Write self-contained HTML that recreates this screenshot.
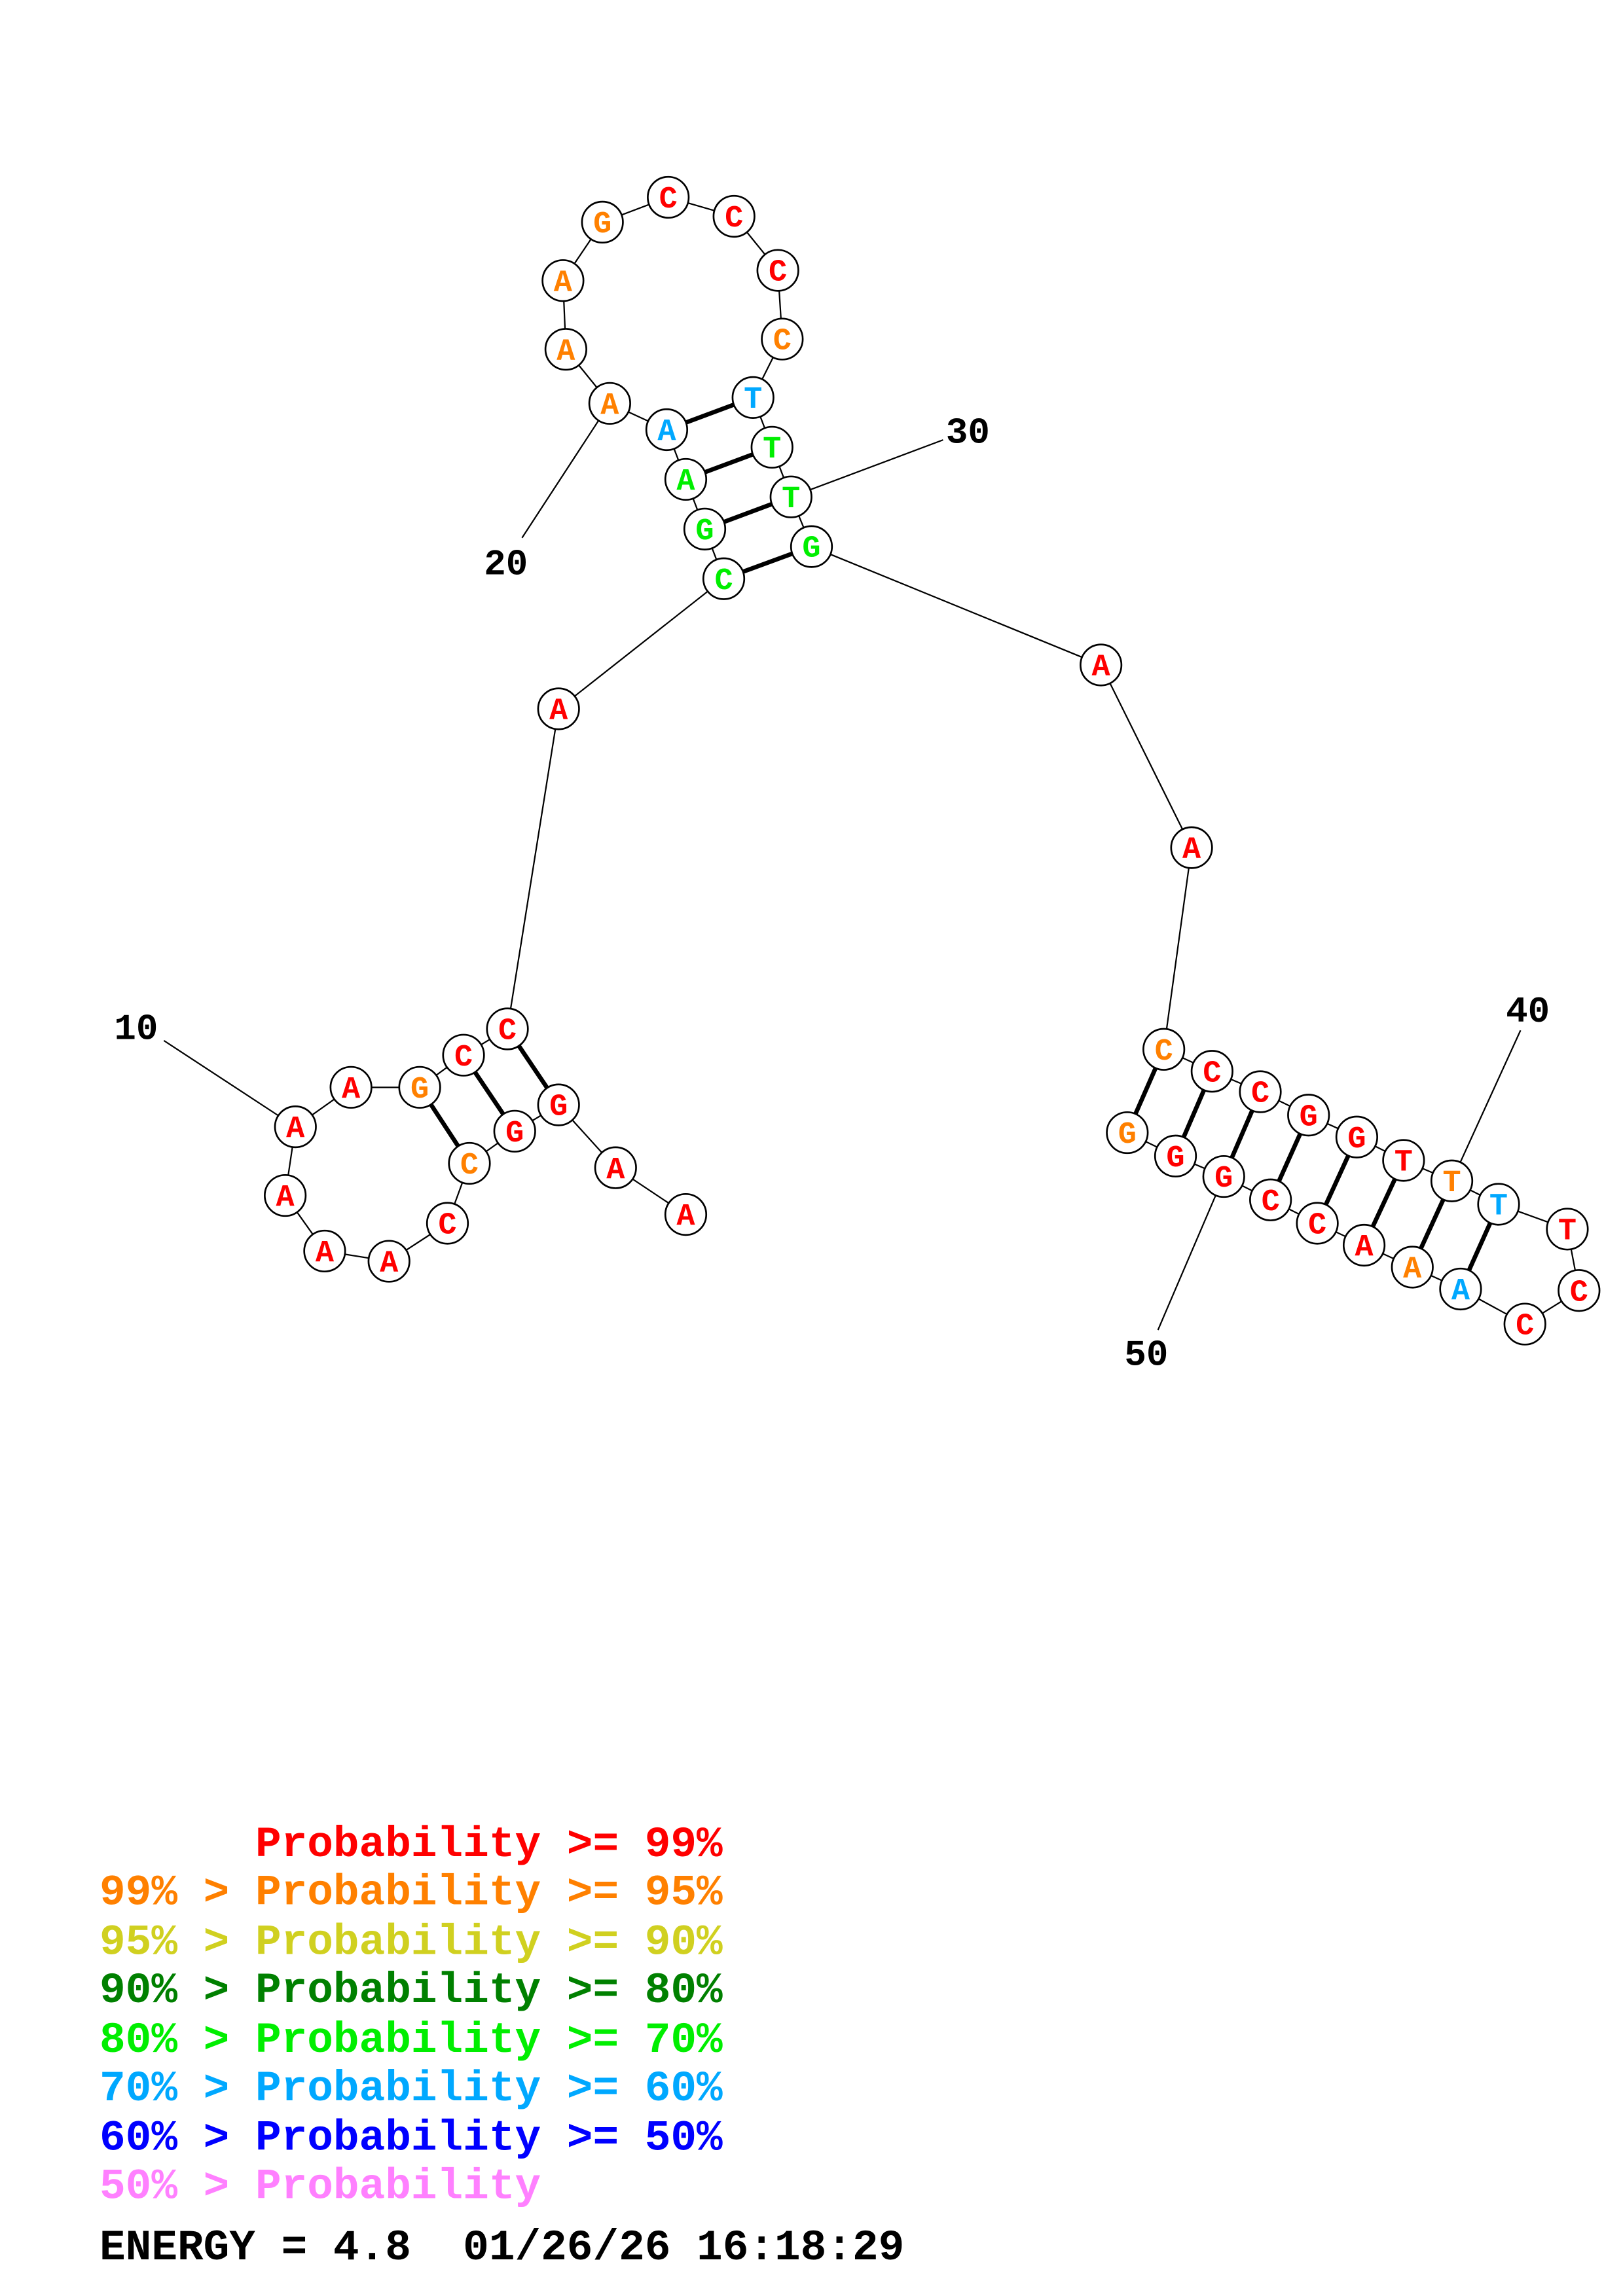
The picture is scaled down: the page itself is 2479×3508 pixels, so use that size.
<!DOCTYPE html>
<html><head><meta charset="utf-8"><style>
html,body{margin:0;padding:0;background:#fff;}
svg{display:block;}
.n{fill:#fff;stroke:#000;stroke-width:1.2}
.t{font-family:"Liberation Mono",monospace;font-weight:bold;font-size:21px;text-anchor:middle}
.r{fill:#ff0000}.o{fill:#ff8000}.g{fill:#00ee00}.b{fill:#00a8ff}
</style></head><body>
<svg width="2479" height="3508" viewBox="0 0 1110 1571" xmlns="http://www.w3.org/2000/svg">
<rect width="1110" height="1571" fill="#fff"/>
<polyline fill="none" stroke="#000" stroke-width="1" points="469,831 421,799 382,756 352,774 321,796 306,837 266,863 222,856 195,818 202,771 240,744 287,744 317,722 347,704 382,485 495,396 482,362 469,328 456,294 417,276 387,239 385,192 412,152 457,135 502,148 532,185 535,232 515,272 528,306 541,340 555,374 753,455 815,580 796,718 829,733 862,747 895,763 928,778 960,794 993,808 1025,824 1072,841 1080,883 1043,906 999,882 966,867 933,852 901,837 869,821 837,805 804,791 771,775"/>
<g stroke="#000" stroke-width="3">
<line x1="382" y1="756" x2="347" y2="704"/>
<line x1="352" y1="774" x2="317" y2="722"/>
<line x1="321" y1="796" x2="287" y2="744"/>
<line x1="495" y1="396" x2="555" y2="374"/>
<line x1="482" y1="362" x2="541" y2="340"/>
<line x1="469" y1="328" x2="528" y2="306"/>
<line x1="456" y1="294" x2="515" y2="272"/>
<line x1="796" y1="718" x2="771" y2="775"/>
<line x1="829" y1="733" x2="804" y2="791"/>
<line x1="862" y1="747" x2="837" y2="805"/>
<line x1="895" y1="763" x2="869" y2="821"/>
<line x1="928" y1="778" x2="901" y2="837"/>
<line x1="960" y1="794" x2="933" y2="852"/>
<line x1="993" y1="808" x2="966" y2="867"/>
<line x1="1025" y1="824" x2="999" y2="882"/>
</g>
<g stroke="#000" stroke-width="1">
<line x1="202" y1="771" x2="112" y2="712"/>
<line x1="417" y1="276" x2="357" y2="368"/>
<line x1="541" y1="340" x2="645" y2="301"/>
<line x1="993" y1="808" x2="1040" y2="705"/>
<line x1="837" y1="805" x2="792" y2="910"/>
</g>
<g font-family="Liberation Mono, monospace" font-weight="bold" font-size="25" fill="#000">
<text x="78" y="711">10</text>
<text x="331" y="393">20</text>
<text x="647" y="303">30</text>
<text x="1030" y="699">40</text>
<text x="769" y="934">50</text>
</g>
<g>
<circle class="n" cx="469" cy="831" r="14"/><circle class="n" cx="421" cy="799" r="14"/><circle class="n" cx="382" cy="756" r="14"/><circle class="n" cx="352" cy="774" r="14"/><circle class="n" cx="321" cy="796" r="14"/><circle class="n" cx="306" cy="837" r="14"/><circle class="n" cx="266" cy="863" r="14"/><circle class="n" cx="222" cy="856" r="14"/><circle class="n" cx="195" cy="818" r="14"/><circle class="n" cx="202" cy="771" r="14"/>
<circle class="n" cx="240" cy="744" r="14"/><circle class="n" cx="287" cy="744" r="14"/><circle class="n" cx="317" cy="722" r="14"/><circle class="n" cx="347" cy="704" r="14"/><circle class="n" cx="382" cy="485" r="14"/><circle class="n" cx="495" cy="396" r="14"/><circle class="n" cx="482" cy="362" r="14"/><circle class="n" cx="469" cy="328" r="14"/><circle class="n" cx="456" cy="294" r="14"/><circle class="n" cx="417" cy="276" r="14"/>
<circle class="n" cx="387" cy="239" r="14"/><circle class="n" cx="385" cy="192" r="14"/><circle class="n" cx="412" cy="152" r="14"/><circle class="n" cx="457" cy="135" r="14"/><circle class="n" cx="502" cy="148" r="14"/><circle class="n" cx="532" cy="185" r="14"/><circle class="n" cx="535" cy="232" r="14"/><circle class="n" cx="515" cy="272" r="14"/><circle class="n" cx="528" cy="306" r="14"/><circle class="n" cx="541" cy="340" r="14"/>
<circle class="n" cx="555" cy="374" r="14"/><circle class="n" cx="753" cy="455" r="14"/><circle class="n" cx="815" cy="580" r="14"/><circle class="n" cx="796" cy="718" r="14"/><circle class="n" cx="829" cy="733" r="14"/><circle class="n" cx="862" cy="747" r="14"/><circle class="n" cx="895" cy="763" r="14"/><circle class="n" cx="928" cy="778" r="14"/><circle class="n" cx="960" cy="794" r="14"/><circle class="n" cx="993" cy="808" r="14"/>
<circle class="n" cx="1025" cy="824" r="14"/><circle class="n" cx="1072" cy="841" r="14"/><circle class="n" cx="1080" cy="883" r="14"/><circle class="n" cx="1043" cy="906" r="14"/><circle class="n" cx="999" cy="882" r="14"/><circle class="n" cx="966" cy="867" r="14"/><circle class="n" cx="933" cy="852" r="14"/><circle class="n" cx="901" cy="837" r="14"/><circle class="n" cx="869" cy="821" r="14"/><circle class="n" cx="837" cy="805" r="14"/>
<circle class="n" cx="804" cy="791" r="14"/><circle class="n" cx="771" cy="775" r="14"/>
</g>
<g class="t" transform="translate(0,1)">
<text class="r" x="469" y="837">A</text><text class="r" x="421" y="805">A</text><text class="r" x="382" y="762">G</text><text class="r" x="352" y="780">G</text><text class="o" x="321" y="802">C</text><text class="r" x="306" y="843">C</text><text class="r" x="266" y="869">A</text><text class="r" x="222" y="862">A</text><text class="r" x="195" y="824">A</text><text class="r" x="202" y="777">A</text>
<text class="r" x="240" y="750">A</text><text class="o" x="287" y="750">G</text><text class="r" x="317" y="728">C</text><text class="r" x="347" y="710">C</text><text class="r" x="382" y="491">A</text><text class="g" x="495" y="402">C</text><text class="g" x="482" y="368">G</text><text class="g" x="469" y="334">A</text><text class="b" x="456" y="300">A</text><text class="o" x="417" y="282">A</text>
<text class="o" x="387" y="245">A</text><text class="o" x="385" y="198">A</text><text class="o" x="412" y="158">G</text><text class="r" x="457" y="141">C</text><text class="r" x="502" y="154">C</text><text class="r" x="532" y="191">C</text><text class="o" x="535" y="238">C</text><text class="b" x="515" y="278">T</text><text class="g" x="528" y="312">T</text><text class="g" x="541" y="346">T</text>
<text class="g" x="555" y="380">G</text><text class="r" x="753" y="461">A</text><text class="r" x="815" y="586">A</text><text class="o" x="796" y="724">C</text><text class="r" x="829" y="739">C</text><text class="r" x="862" y="753">C</text><text class="r" x="895" y="769">G</text><text class="r" x="928" y="784">G</text><text class="r" x="960" y="800">T</text><text class="o" x="993" y="814">T</text>
<text class="b" x="1025" y="830">T</text><text class="r" x="1072" y="847">T</text><text class="r" x="1080" y="889">C</text><text class="r" x="1043" y="912">C</text><text class="b" x="999" y="888">A</text><text class="o" x="966" y="873">A</text><text class="r" x="933" y="858">A</text><text class="r" x="901" y="843">C</text><text class="r" x="869" y="827">C</text><text class="r" x="837" y="811">G</text>
<text class="r" x="804" y="797">G</text><text class="o" x="771" y="781">G</text>
</g>
<g font-family="Liberation Mono, monospace" font-weight="bold" font-size="29.6">
<text x="68" y="1270" fill="#ff0000" xml:space="preserve">      Probability &gt;= 99%</text>
<text x="68" y="1303" fill="#ff8000">99% &gt; Probability &gt;= 95%</text>
<text x="68" y="1337" fill="#d0d020">95% &gt; Probability &gt;= 90%</text>
<text x="68" y="1370" fill="#008000">90% &gt; Probability &gt;= 80%</text>
<text x="68" y="1404" fill="#00ee00">80% &gt; Probability &gt;= 70%</text>
<text x="68" y="1437" fill="#00a8ff">70% &gt; Probability &gt;= 60%</text>
<text x="68" y="1471" fill="#0000ff">60% &gt; Probability &gt;= 50%</text>
<text x="68" y="1504" fill="#ff80ff">50% &gt; Probability</text>
<text x="68" y="1546" fill="#000" xml:space="preserve">ENERGY = 4.8  01/26/26 16:18:29</text>
</g>
</svg>
</body></html>
